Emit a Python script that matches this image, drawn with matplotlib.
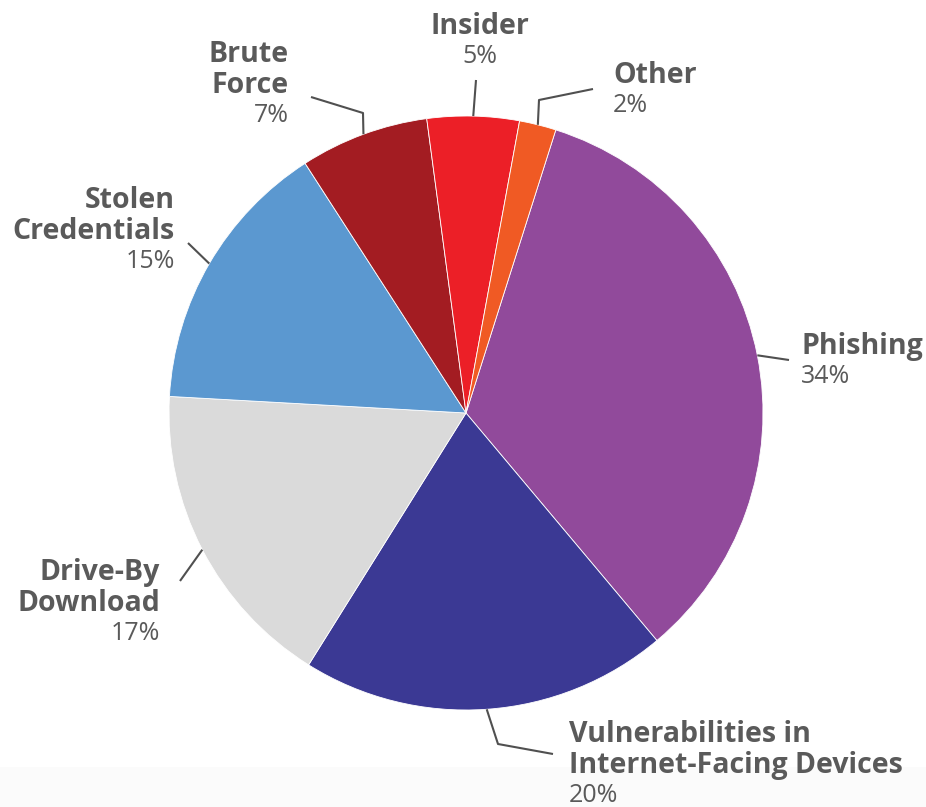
import numpy as np
import matplotlib.pyplot as plt
from matplotlib.patches import Rectangle

# data
categories = ['Phishing', 'Vulnerabilities in\nInternet-Facing Devices', 'Drive-By\nDownload',
              'Stolen\nCredentials', 'Brute\nForce', 'Insider', 'Other']
shares = [34, 20, 17, 15, 7, 5, 2]
colors = ['#914a9b', '#3b3994', '#dadada', '#5b98d0', '#a31c22', '#ec1f27', '#f05a24']

W, H = 926, 807
TXT = '#5a5a5a'
FONT = 'Open Sans'

# label layout (pixel coords, y from top): anchor x, align, baseline of first line, leader points after the edge
layout = {
    'Phishing': (801, 'left', 354, [(789, 360)]),
    'Vulnerabilities in\nInternet-Facing Devices': (569, 'left', 742, [(498, 744), (553, 754)]),
    'Drive-By\nDownload': (160, 'right', 580, [(180, 581)]),
    'Stolen\nCredentials': (175, 'right', 208, [(188, 243)]),
    'Brute\nForce': (289, 'right', 62, [(363, 113), (311, 97)]),
    'Insider': (480, 'center', 34, [(476, 80)]),
    'Other': (613, 'left', 83, [(539, 100), (593, 89)]),
}


def py(y):
    return H - y


fig = plt.figure(figsize=(W / 100, H / 100), dpi=100)
ax = fig.add_axes([0, 0, 1, 1])

ax.add_patch(Rectangle((0, 0), W, py(767), color='#fbfbfb', zorder=0, lw=0))

cx, cy, r = 466, py(413), 297
wedges, _ = ax.pie(shares, colors=colors, startangle=72.4, counterclock=False,
                   center=(cx, cy), radius=r, frame=True,
                   wedgeprops=dict(edgecolor='white', linewidth=0.6))
ax.set_xlim(0, W)
ax.set_ylim(0, H)
ax.set_aspect('equal')
ax.axis('off')

for w, name, val in zip(wedges, categories, shares):
    mid = np.deg2rad((w.theta1 + w.theta2) / 2)
    ex, ey = cx + r * np.cos(mid), cy + r * np.sin(mid)
    x, ha, base, pts = layout[name]
    xs = [ex] + [p[0] for p in pts]
    ys = [ey] + [py(p[1]) for p in pts]
    ax.plot(xs, ys, color='#505050', lw=1.5, solid_capstyle='butt', zorder=3)

    lines = name.split('\n')
    pitch = 31
    for i, ln in enumerate(lines):
        ax.text(x, py(base + i * pitch), ln, ha=ha, va='baseline', fontsize=20.5,
                fontweight='bold', color=TXT, family=FONT)
    ax.text(x, py(base + len(lines) * pitch - 2), f'{val}%', ha=ha, va='baseline',
            fontsize=18, fontweight='normal', color=TXT, family=FONT)

fig.savefig('out.png', dpi=100)
